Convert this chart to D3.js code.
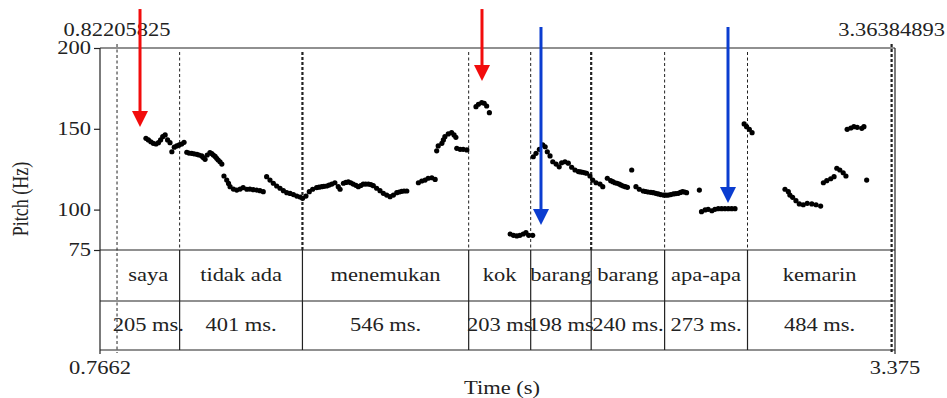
<!DOCTYPE html>
<html>
<head>
<meta charset="utf-8">
<script src="https://cdn.jsdelivr.net/npm/d3@7"></script>
<style>
  body { margin: 0; background: #fff; }
  svg text { font-family: "Liberation Serif", "Times New Roman", serif; fill: #222; }
</style>
</head>
<body>
<svg id="chart" width="947" height="398"></svg>
<script>
// time range of the window and the selected part
var timeRange = [0.7662, 3.375];
var selection = [0.82205825, 3.36384893];
var pitchRange = [75, 200];
var pitchTicks = [75, 100, 150, 200];

// interval tiers
var boundaries = [0.82205825, 1.0275, 1.4305, 1.976, 2.1795, 2.378, 2.619, 2.891, 3.36384893];
var majorBoundaries = [2, 5, 8]; // indexes drawn with heavy dots
var words = ["saya", "tidak ada", "menemukan", "kok", "barang", "barang", "apa-apa", "kemarin"];
var durations = ["205 ms.", "401 ms.", "546 ms.", "203 ms", "198 ms", "240 ms.", "273 ms.", "484 ms."];

// pitch track [time (s), F0 (Hz)]
var pitch = [
  [0.917,144.1],[0.925,143.1],[0.933,142.0],[0.941,141.0],[0.950,140.6],[0.958,141.4],[0.965,143.1],[0.972,145.1],
  [0.980,146.2],[0.988,143.1],[0.996,141.4],[1.002,135.8],[1.010,138.6],[1.018,139.4],[1.026,140.0],[1.034,140.6],[1.042,141.6],
  [1.051,135.5],[1.058,135.0],[1.067,134.8],[1.075,134.5],[1.084,134.2],[1.091,133.8],[1.100,133.2],[1.105,132.2],[1.111,131.1],
  [1.118,133.8],[1.127,135.2],[1.133,134.7],[1.138,133.8],[1.144,132.9],[1.149,131.7],[1.154,130.7],[1.160,129.6],[1.166,128.2],
  [1.173,120.8],[1.182,118.3],[1.188,116.2],[1.193,114.2],[1.204,112.7],[1.215,112.1],[1.226,112.7],[1.236,113.6],[1.248,112.6],
  [1.258,112.7],[1.269,112.3],[1.280,112.1],[1.291,111.7],[1.302,111.1],
  [1.313,120.4],[1.324,118.3],[1.335,116.3],[1.346,114.6],[1.357,113.2],[1.368,111.7],[1.379,110.5],[1.390,110.0],[1.401,109.3],
  [1.412,108.4],[1.423,107.8],[1.431,107.0],[1.442,108.4],[1.453,111.1],[1.464,112.6],[1.477,113.6],[1.485,113.9],[1.494,114.2],
  [1.501,114.4],[1.510,114.6],[1.518,115.2],[1.527,115.8],[1.537,116.6],[1.548,114.2],[1.554,112.6],[1.565,116.3],[1.573,116.8],
  [1.581,117.1],[1.589,116.6],[1.597,115.8],[1.606,115.0],[1.614,114.2],[1.622,114.9],[1.630,115.8],[1.638,115.8],[1.647,115.8],
  [1.655,115.5],[1.663,114.8],[1.674,113.2],[1.685,111.7],[1.696,110.1],[1.707,109.0],[1.718,108.0],[1.729,109.0],[1.740,110.5],
  [1.748,110.9],[1.756,111.3],[1.764,111.5],[1.773,111.5],
  [1.811,116.6],[1.822,117.7],[1.833,118.3],[1.843,119.4],[1.855,119.7],[1.866,118.7],
  [1.871,136.4],[1.876,139.4],[1.888,141.0],[1.893,143.1],[1.898,145.1],[1.909,146.8],[1.920,147.6],[1.928,146.2],[1.934,144.7],
  [1.937,137.9],[1.948,137.3],[1.958,137.3],[1.970,136.9],
  [2.000,163.7],[2.008,165.2],[2.019,166.2],[2.027,165.8],[2.035,164.1],[2.044,160.0],
  [2.112,84.9],[2.123,84.1],[2.134,83.7],[2.144,84.1],[2.155,84.9],[2.164,85.7],[2.173,84.1],[2.186,84.1],
  [2.188,132.7],[2.197,134.8],[2.208,137.3],[2.219,140.0],[2.227,138.9],[2.234,135.8],[2.243,133.2],[2.252,129.6],[2.263,128.2],
  [2.273,126.5],[2.281,129.0],[2.292,129.6],[2.303,128.7],[2.314,126.2],[2.325,124.5],[2.336,123.5],[2.343,123.3],[2.350,123.1],
  [2.357,122.8],[2.363,122.5],[2.374,120.8],[2.383,118.3],[2.394,116.6],[2.407,115.8],[2.416,114.2],
  [2.431,119.4],[2.442,117.9],[2.449,117.3],[2.456,116.6],[2.463,116.3],[2.470,115.8],[2.476,115.2],[2.483,114.6],[2.490,114.2],
  [2.497,113.8],[2.511,124.5],[2.525,114.2],[2.536,112.6],[2.549,111.5],[2.557,111.2],[2.565,110.9],[2.574,110.7],[2.582,110.5],
  [2.590,110.1],[2.598,109.7],[2.606,109.3],[2.615,109.0],[2.623,108.9],[2.631,109.0],[2.639,109.3],[2.648,109.7],[2.656,109.9],
  [2.664,110.1],[2.671,110.6],[2.678,111.1],[2.685,110.9],[2.691,110.5],
  [2.733,112.1],
  [2.740,98.7],[2.752,99.8],[2.762,100.2],[2.774,99.3],[2.784,100.2],[2.795,100.6],[2.806,100.6],[2.817,100.6],[2.828,100.6],
  [2.839,100.6],[2.850,100.6],
  [2.880,153.0],[2.888,151.3],[2.897,149.7],[2.906,147.6],
  [3.014,112.6],[3.025,111.1],[3.030,109.0],[3.039,107.6],[3.050,105.5],[3.061,103.5],[3.074,103.0],[3.087,103.9],[3.102,103.5],
  [3.116,103.0],[3.131,102.2],
  [3.140,116.6],[3.151,117.9],[3.164,119.1],[3.175,120.4],
  [3.184,125.6],[3.194,124.5],[3.205,122.8],[3.214,120.8],
  [3.218,149.7],[3.230,150.5],[3.240,151.3],[3.251,150.9],[3.266,150.3],[3.273,151.3],
  [3.282,118.3]
];

// annotation arrows: time, top (Hz), tip (Hz)
var redArrows = [[0.8975, 224.1, 151.1], [2.0197, 224.1, 179.6]];
var blueArrows = [[2.2133, 213.0, 90.5], [2.8270, 213.0, 104.1]];

function drawChart() {
  var svg = d3.select("#chart");
  var left = 100, right = 895, plotTop = 48, pitchBottom = 250, rowMid = 301, bottom = 350;
  var stretch = 1.25;

  var x = d3.scaleLinear().domain(timeRange).range([left, right]);
  var y = d3.scaleLinear().domain(pitchRange).range([pitchBottom, plotTop]);

  function label(px, py, str, anchor) {
    return svg.append("text")
      .attr("transform", "translate(" + px + "," + py + ") scale(" + stretch + ",1)")
      .attr("text-anchor", anchor || "middle")
      .style("font-size", "18px")
      .text(str);
  }

  // boundary lines
  boundaries.forEach(function (b, i) {
    var bx = x(b);
    var edge = (i === 0 || i === boundaries.length - 1);
    var heavy = majorBoundaries.indexOf(i) >= 0;
    svg.append("line")
      .attr("x1", bx).attr("x2", bx)
      .attr("y1", edge ? plotTop - 4 : plotTop + 4)
      .attr("y2", edge ? bottom + 3 : pitchBottom)
      .attr("stroke", "#222")
      .attr("stroke-width", heavy ? 2.2 : 1)
      .attr("stroke-dasharray", heavy ? "3,2" : "3,2.5");
    if (!edge) {
      svg.append("line")
        .attr("x1", bx).attr("x2", bx)
        .attr("y1", pitchBottom).attr("y2", bottom)
        .attr("stroke", "#222").attr("stroke-width", 1.2);
    }
  });

  // frame and table rows
  var frame = svg.append("g").attr("stroke", "#222").attr("stroke-width", 1.2);
  [plotTop, pitchBottom, rowMid, bottom].forEach(function (hy) {
    frame.append("line").attr("x1", left).attr("x2", right).attr("y1", hy).attr("y2", hy);
  });
  frame.append("line").attr("x1", left).attr("x2", left).attr("y1", plotTop).attr("y2", bottom + 4);
  frame.append("line").attr("x1", right).attr("x2", right).attr("y1", plotTop).attr("y2", bottom + 4);

  // pitch axis
  var yAxis = d3.axisLeft(y).tickValues(pitchTicks).tickSize(6).tickPadding(4);
  var ga = svg.append("g").attr("transform", "translate(" + left + ",0)").call(yAxis);
  ga.select(".domain").remove();
  ga.selectAll("line").attr("stroke", "#222").attr("stroke-width", 1.2);
  ga.selectAll("text").remove();
  pitchTicks.forEach(function (t) {
    label(left - 9, y(t) + 6, t, "end");
  });

  svg.append("text")
    .attr("transform", "translate(28,199) rotate(-90) scale(1," + stretch + ")")
    .attr("text-anchor", "middle")
    .style("font-size", "18px")
    .text("Pitch (Hz)");

  // pitch points
  svg.append("g").selectAll("circle")
    .data(pitch)
    .join("circle")
    .attr("cx", function (d) { return x(d[0]); })
    .attr("cy", function (d) { return y(d[1]); })
    .attr("r", 2.6)
    .attr("fill", "#000");

  // tier texts
  words.forEach(function (w, i) {
    var cx = (x(boundaries[i]) + x(boundaries[i + 1])) / 2;
    label(cx, 281, w);
    label(cx, 331, durations[i]);
  });

  // time labels
  label(x(selection[0]), 36, selection[0]);
  label(x(selection[1]), 36, selection[1]);
  label(x(timeRange[0]), 374, timeRange[0]);
  label(x(timeRange[1]), 374, timeRange[1]);
  label(502, 394, "Time (s)");

  // arrows
  function arrow(a, color) {
    var ax = x(a[0]), y0 = y(a[1]), y1 = y(a[2]);
    svg.append("line")
      .attr("x1", ax).attr("x2", ax)
      .attr("y1", y0).attr("y2", y1 - 14)
      .attr("stroke", color).attr("stroke-width", 3);
    svg.append("path")
      .attr("d", "M" + (ax - 8) + "," + (y1 - 16) + "L" + (ax + 8) + "," + (y1 - 16) + "L" + ax + "," + y1 + "Z")
      .attr("fill", color);
  }
  redArrows.forEach(function (a) { arrow(a, "#f20c0c"); });
  blueArrows.forEach(function (a) { arrow(a, "#0b3dd0"); });
}

drawChart();
</script>
</body>
</html>
